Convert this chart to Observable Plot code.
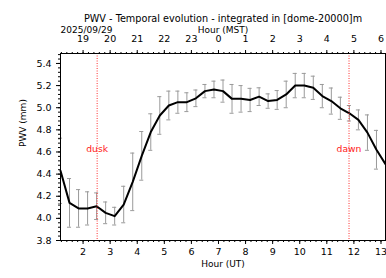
<!DOCTYPE html>
<html><head><meta charset="utf-8">
<script src="https://cdn.jsdelivr.net/npm/d3@7"></script>
<script src="https://cdn.jsdelivr.net/npm/@observablehq/plot@0.6"></script>
<style>body{margin:0;background:#fff}</style>
</head><body><div id="chart"></div>
<script>
const title = "PWV - Temporal evolution - integrated in [dome-20000]m";
const dateLabel = "2025/09/29";
const times = ["01:10","01:30","01:50","02:10","02:30","02:50","03:10","03:30","03:50","04:10",
  "04:30","04:50","05:10","05:30","05:50","06:10","06:30","06:50","07:10","07:30",
  "07:50","08:10","08:30","08:50","09:10","09:30","09:50","10:10","10:30","10:50",
  "11:10","11:30","11:50","12:10","12:30","12:50","13:10"];
const pwv = [4.43,4.14,4.09,4.09,4.11,4.05,4.02,4.125,4.33,4.565,
  4.78,4.93,5.02,5.05,5.05,5.085,5.15,5.165,5.15,5.08,
  5.08,5.07,5.10,5.06,5.07,5.12,5.20,5.20,5.18,5.105,
  5.06,4.995,4.95,4.89,4.775,4.62,4.49];
const pwvErr = [0.295,0.22,0.17,0.15,0.12,0.098,0.08,0.165,0.26,0.22,
  0.165,0.17,0.13,0.10,0.085,0.075,0.06,0.075,0.10,0.13,
  0.12,0.105,0.08,0.065,0.085,0.12,0.11,0.11,0.105,0.105,
  0.118,0.10,0.07,0.09,0.16,0.175,null];
const utTicks = [2,3,4,5,6,7,8,9,10,11,12,13];
const yTicks = [3.8,4.0,4.2,4.4,4.6,4.8,5.0,5.2,5.4];
const mstOffset = -7;
const events = [{name:"dusk", ut: 2.52}, {name:"dawn", ut: 11.82}];
const eventLabelY = 4.63;

const toHour = s => { const [h,m] = s.split(":").map(Number); return h + m/60; };
const data = times.map((t,i) => ({ut: toHour(t), v: pwv[i], e: pwvErr[i]}));
const errs = data.filter(d => d.e != null);
const capHalf = 0.075;

const xMinor = d3.range(1.2, 13.2, 0.2);
const yMinor = d3.range(3.8, 5.49, 0.04);

const chart = Plot.plot({
  width: 386, height: 278,
  marginLeft: 60, marginRight: 1, marginTop: 53, marginBottom: 38,
  style: {fontFamily: "DejaVu Sans", fontSize: "9.5px", color: "#000", background: "#fff"},
  x: {domain: [toHour(times[0]), toHour(times[times.length-1])]},
  y: {domain: [3.8, 5.49]},
  marks: [
    Plot.ruleX(errs, {x: "ut", y1: d => d.v - d.e, y2: d => d.v + d.e, stroke: "#9a9a9a", strokeWidth: 1}),
    Plot.ruleY(errs, {y: d => d.v + d.e, x1: d => d.ut - capHalf, x2: d => d.ut + capHalf, stroke: "#9a9a9a", strokeWidth: 1}),
    Plot.ruleY(errs, {y: d => d.v - d.e, x1: d => d.ut - capHalf, x2: d => d.ut + capHalf, stroke: "#9a9a9a", strokeWidth: 1}),
    Plot.line(data, {x: "ut", y: "v", stroke: "#000", strokeWidth: 2}),
    Plot.ruleX(events, {x: "ut", stroke: "#ff3030", strokeWidth: 1, strokeDasharray: "1,1.5"}),
    Plot.text(events, {x: "ut", y: () => eventLabelY, text: "name", fill: "#ff2020", fontSize: 9.2}),
    Plot.frame({stroke: "#000"}),
    Plot.axisX({anchor: "bottom", ticks: utTicks, tickSize: 4, tickPadding: 3.7, tickFormat: d => d, label: null}),
    Plot.axisX({anchor: "bottom", ticks: xMinor, tickSize: 2, tickFormat: () => "", label: null}),
    Plot.axisX({anchor: "top", ticks: utTicks, tickSize: 4, tickPadding: 8, tickFormat: d => (d + mstOffset + 24) % 24, label: null}),
    Plot.axisX({anchor: "top", ticks: xMinor, tickSize: 2, tickFormat: () => "", label: null}),
    Plot.axisY({anchor: "left", ticks: yTicks, tickSize: 4, tickPadding: 5, tickFormat: d3.format(".1f"), label: null}),
    Plot.axisY({anchor: "left", ticks: yMinor, tickSize: 2, tickFormat: () => "", label: null}),
    Plot.text([title], {frameAnchor: "top", dy: -38.5, fontSize: 9.7}),
    Plot.text(["Hour (MST)"], {frameAnchor: "top", dy: -26.8, fontSize: 9}),
    Plot.text([dateLabel], {frameAnchor: "top-left", dy: -26.8, textAnchor: "start", fontSize: 9}),
    Plot.text(["Hour (UT)"], {frameAnchor: "bottom", dy: 26.5, fontSize: 9}),
    Plot.text(["PWV (mm)"], {frameAnchor: "left", dx: -37, rotate: -90, fontSize: 9})
  ]
});
document.getElementById("chart").appendChild(chart);
</script>
</body></html>
